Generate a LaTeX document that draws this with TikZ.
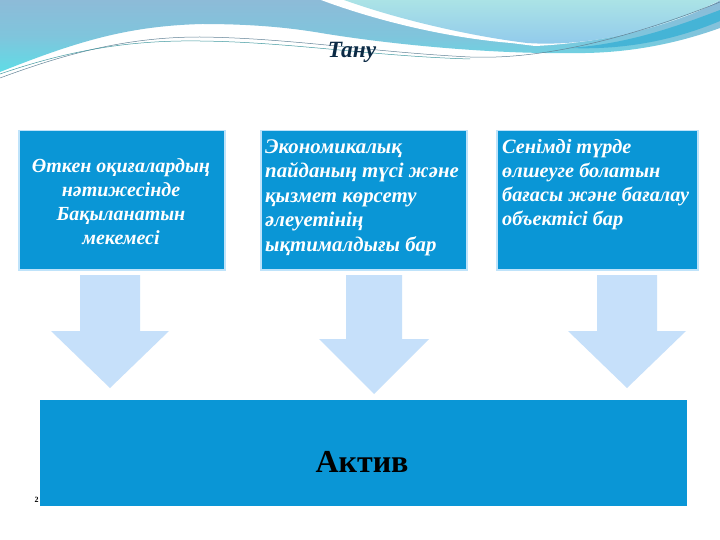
\documentclass[tikz,border=0pt]{standalone}
\usepackage{fontspec}
\setmainfont{Liberation Serif}
\definecolor{boxblue}{HTML}{0A96D6}
\definecolor{boxedge}{HTML}{BFE3FA}
\definecolor{arrowblue}{HTML}{C6E0FA}
\definecolor{inkdark}{HTML}{0B2A45}
\definecolor{bandA}{HTML}{8DBBD8}
\definecolor{bandB}{HTML}{5FDCE6}
\definecolor{capA}{HTML}{ABE3E6}
\definecolor{capB}{HTML}{8FC8EC}
\definecolor{swoosh}{HTML}{45B4D6}
\tikzset{
 px/.style={x=1pt,y=-1pt},
 infobox/.style={draw=boxedge,line width=1.5pt,fill=boxblue,inner sep=0pt,anchor=north west},
 infotext/.style={text=white,inner sep=0pt},
 downarrow/.style={fill=arrowblue,draw=none},
 thread/.style={line width=.5pt}
}
\begin{document}
\begin{tikzpicture}[px]
\useasboundingbox (0,0) rectangle (720,540);
\fill[white] (0,0) rectangle (720,540);
% header background
\shade[top color=bandA,bottom color=bandB,middle color=bandA!70!bandB]
 (0,0) -- (720,0) -- (720,28) .. controls (670,46) and (620,54) .. (569,53)
 .. controls (500,54) and (400,46) .. (321,33) .. controls (280,26) and (240,24) .. (202,24)
 .. controls (130,26) and (80,40) .. (0,72) -- cycle;
\fill[white] (321,0) .. controls (380,22) and (450,38) .. (511,43) -- (535,46)
 .. controls (620,42) and (690,18) .. (720,0) -- cycle;
\shade[top color=capA,bottom color=capB]
 (344,0) .. controls (400,20) and (470,36) .. (527,43)
 .. controls (600,48) and (680,22) .. (720,0) -- cycle;
\fill[swoosh] (569,48) .. controls (630,44) and (680,25) .. (720,10) -- (720,21)
 .. controls (670,42) and (620,50) .. (569,48) -- cycle;
\draw[thread,color=bandA!70!black] (0,78) .. controls (70,52) and (130,37) .. (200,37)
 .. controls (290,38) and (370,52) .. (470,57) .. controls (520,59) and (600,50) .. (720,2);
\draw[thread,color=bandB!70!black] (0,74) .. controls (70,50) and (130,40) .. (200,41)
 .. controls (290,42) and (370,56) .. (470,59);
% boxes
\node[infobox,minimum width=206pt,minimum height=139pt] (past) at (18,130) {};
\node[infobox,minimum width=206pt,minimum height=139pt] (econ) at (260,130) {};
\node[infobox,minimum width=201pt,minimum height=139pt] (meas) at (496,130) {};
\node[fill=boxblue,inner sep=0pt,anchor=north west,minimum width=647pt,minimum height=106pt] (assetbox) at (40,400) {};
\node[text=black,font=\fontsize{32}{36}\selectfont\bfseries] (asset) at (362,462) {Актив};
\node[text=inkdark,font=\fontsize{23.3}{26}\selectfont\bfseries\itshape] (tanu) at (352,52.5) {Тану};
\node[infotext,align=center,font=\fontsize{20}{24}\selectfont\bfseries\itshape] (pasttext) at (121,201.5) {Өткен оқиғалардың\\нәтижесінде\\Бақыланатын\\мекемесі};
\node[infotext,align=left,anchor=north west,font=\fontsize{20.8}{24.5}\selectfont\bfseries\itshape] (econtext) at (265,139.5) {Экономикалық\\пайданың түсі және\\қызмет көрсету\\әлеуетінің\\ықтималдығы бар};
\node[infotext,align=left,anchor=north west,font=\fontsize{20.3}{24}\selectfont\bfseries\itshape] (meastext) at (502,139) {Сенімді түрде\\өлшеуге болатын\\бағасы және бағалау\\объектісі бар};
% arrows
\fill[downarrow] (80,275) -- (140,275) -- (140,331) -- (169,331) -- (110,388) -- (51,331) -- (80,331) -- cycle;
\fill[downarrow] (346,275) -- (402,275) -- (402,339) -- (429,339) -- (374,394) -- (319,339) -- (346,339) -- cycle;
\fill[downarrow] (597,275) -- (657,275) -- (657,331) -- (686,331) -- (627,388) -- (568,331) -- (597,331) -- cycle;
\node[font=\fontsize{8}{9}\selectfont\bfseries,inner sep=0pt] (pagenum) at (36.5,500) {2};
\end{tikzpicture}
\end{document}
